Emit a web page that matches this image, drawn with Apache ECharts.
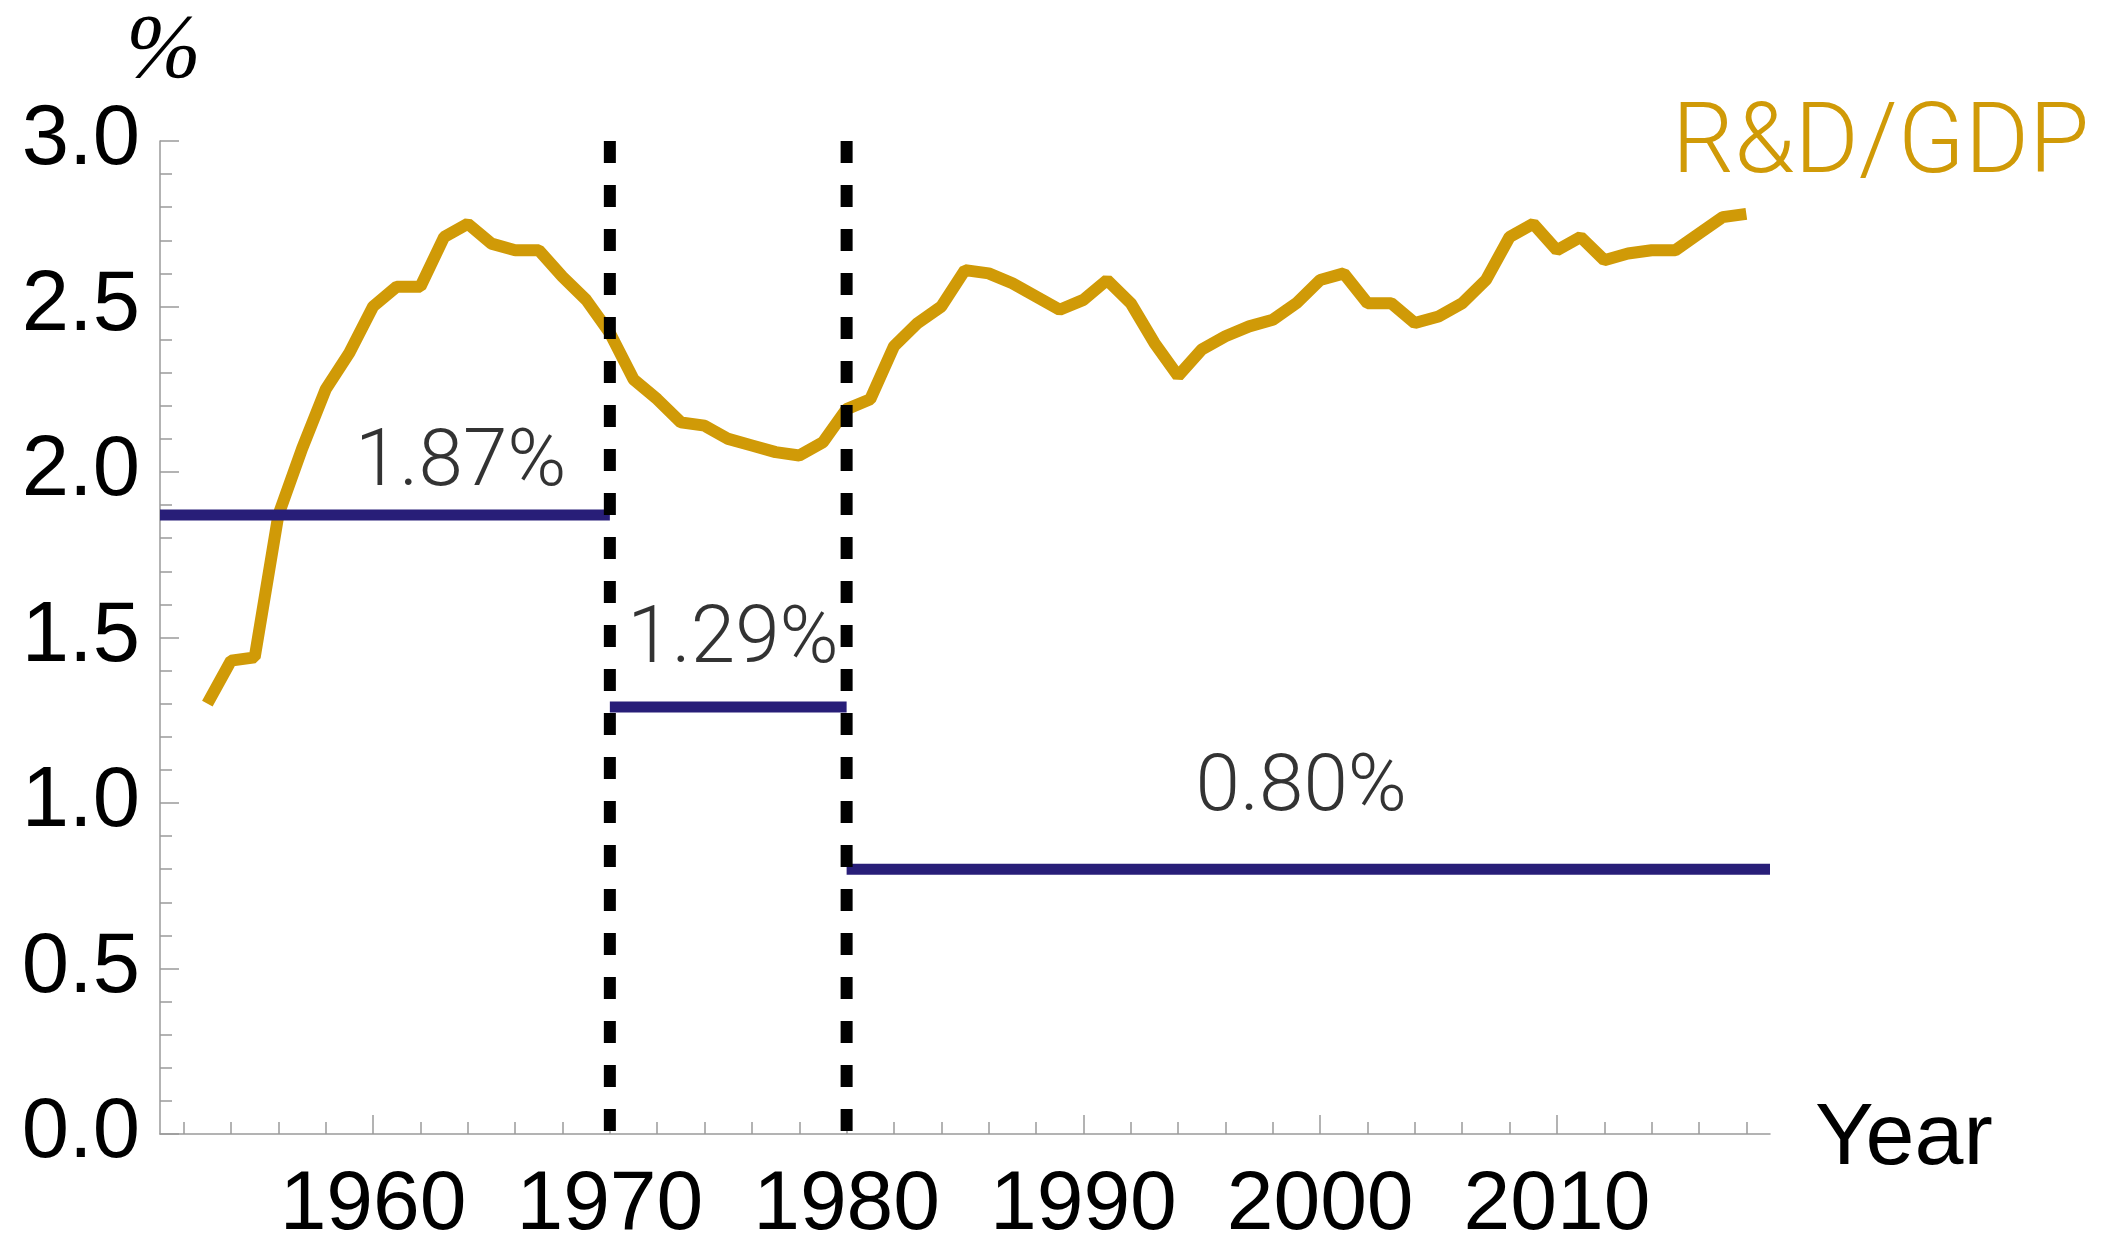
<!DOCTYPE html>
<html>
<head>
<meta charset="utf-8">
<title>R&amp;D/GDP</title>
<script src="https://cdn.jsdelivr.net/npm/echarts@6.0.0/dist/echarts.min.js"></script>
<style>
  html, body { margin: 0; padding: 0; background: #fff; }
  #RdChart { width: 2105px; height: 1239px; }
</style>
</head>
<body>
<div id="RdChart"></div>
<script>
// R&D 占 GDP 比重，1953-2018
const years = [
  1953, 1954, 1955, 1956, 1957, 1958, 1959, 1960, 1961, 1962,
  1963, 1964, 1965, 1966, 1967, 1968, 1969, 1970, 1971, 1972,
  1973, 1974, 1975, 1976, 1977, 1978, 1979, 1980, 1981, 1982,
  1983, 1984, 1985, 1986, 1987, 1988, 1989, 1990, 1991, 1992,
  1993, 1994, 1995, 1996, 1997, 1998, 1999, 2000, 2001, 2002,
  2003, 2004, 2005, 2006, 2007, 2008, 2009, 2010, 2011, 2012,
  2013, 2014, 2015, 2016, 2017, 2018,
];
const rdGdp = [
  1.30, 1.43, 1.44, 1.87, 2.07, 2.25, 2.36, 2.50, 2.56, 2.56,
  2.71, 2.75, 2.69, 2.67, 2.67, 2.59, 2.52, 2.42, 2.28, 2.22,
  2.15, 2.14, 2.10, 2.08, 2.06, 2.05, 2.09, 2.19, 2.22, 2.38,
  2.45, 2.50, 2.61, 2.60, 2.57, 2.53, 2.49, 2.52, 2.58, 2.51,
  2.39, 2.29, 2.37, 2.41, 2.44, 2.46, 2.51, 2.58, 2.60, 2.51,
  2.51, 2.45, 2.47, 2.51, 2.58, 2.71, 2.75, 2.67, 2.71, 2.64,
  2.66, 2.67, 2.67, 2.72, 2.77, 2.78,
];

// 三个时期的平均值
const periodStart = [1951, 1970, 1980];
const periodEnd = [1970, 1980, 2019];
const periodAvg = [1.87, 1.29, 0.80];
const periodText = ['1.87%', '1.29%', '0.80%'];
const breakYears = [1970, 1980];

// 刻度
const decadeTicks = [1960, 1970, 1980, 1990, 2000, 2010];
const evenYearTicks = [
  1952, 1954, 1956, 1958, 1960, 1962, 1964, 1966, 1968, 1970,
  1972, 1974, 1976, 1978, 1980, 1982, 1984, 1986, 1988, 1990,
  1992, 1994, 1996, 1998, 2000, 2002, 2004, 2006, 2008, 2010,
  2012, 2014, 2016, 2018,
];

// 标签位置（数据坐标）
const periodLabelAt = [[1963.7, 2.02], [1975.2, 1.485], [1999.2, 1.04]];

const gold = '#D09A07';
const navy = '#281E78';
const axisGrey = '#9a9a9a';
const labelFont = 'Liberation Sans';
const lightFont = 'Roboto';

const myChart = echarts.init(document.getElementById('RdChart'));

const series = [
  {
    name: 'R&D/GDP',
    type: 'line',
    showSymbol: false,
    data: years.map((y, i) => [y, rdGdp[i]]),
    lineStyle: { color: gold, width: 12 },
    z: 2,
  },
];

for (let i = 0; i < periodAvg.length; i++) {
  series.push({
    type: 'line',
    showSymbol: false,
    data: [[periodStart[i], periodAvg[i]], [periodEnd[i], periodAvg[i]]],
    lineStyle: { color: navy, width: 11, cap: 'butt' },
    z: 3,
  });
}

series.push({
  type: 'scatter',
  symbolSize: 0,
  data: periodLabelAt.map((p, i) => ({ value: p, name: periodText[i] })),
  label: {
    show: true,
    position: 'inside',
    formatter: (p) => p.name,
    color: '#000',
    textBorderWidth: 0,
    fontFamily: lightFont,
    fontWeight: 300,
    fontSize: 80,
  },
  z: 5,
});

breakYears.forEach((yr) => {
  series.push({
    type: 'line',
    showSymbol: false,
    data: [[yr, 3.0], [yr, 0]],
    lineStyle: { color: '#000', width: 12, type: [22, 22], cap: 'butt' },
    z: 4,
  });
});

const option = {
  animation: false,
  backgroundColor: '#fff',
  grid: {
    left: 160,
    right: 335,
    top: 141,
    bottom: 105,
    outerBoundsMode: 'none',
  },
  xAxis: [
    {
      type: 'value',
      min: 1951,
      max: 2019,
      axisLine: { show: true, lineStyle: { color: axisGrey, width: 1.5 } },
      axisTick: {
        show: true,
        inside: true,
        length: 12,
        customValues: evenYearTicks,
        lineStyle: { color: axisGrey, width: 1.5 },
      },
      axisLabel: { show: false },
      splitLine: { show: false },
    },
    {
      type: 'value',
      position: 'bottom',
      min: 1951,
      max: 2019,
      axisLine: { show: false },
      axisTick: {
        show: true,
        inside: true,
        length: 19,
        customValues: decadeTicks,
        lineStyle: { color: axisGrey, width: 1.5 },
      },
      axisLabel: {
        show: true,
        customValues: decadeTicks,
        formatter: (v) => String(v),
        fontFamily: labelFont,
        fontSize: 84,
        color: '#000',
        margin: 30,
      },
      splitLine: { show: false },
    },
  ],
  yAxis: {
    type: 'value',
    min: 0,
    max: 3,
    interval: 0.5,
    axisLine: { show: true, lineStyle: { color: axisGrey, width: 1.5 } },
    axisTick: {
      show: true,
      inside: true,
      length: 19,
      lineStyle: { color: axisGrey, width: 1.5 },
    },
    minorTick: {
      show: true,
      splitNumber: 5,
      length: 12,
      lineStyle: { color: axisGrey, width: 1.5 },
    },
    axisLabel: {
      formatter: (v) => v.toFixed(1),
      fontFamily: labelFont,
      fontSize: 85,
      color: '#000',
      margin: 20,
    },
    splitLine: { show: false },
  },
  graphic: [
    {
      type: 'text',
      left: 126,
      top: 8,
      style: {
        text: '%',
        fontFamily: 'Liberation Serif',
        fontStyle: 'italic',
        fontSize: 90,
        fill: '#000',
      },
    },
    {
      type: 'text',
      x: 1672,
      y: 147,
      style: {
        text: 'R&D/GDP',
        fontFamily: lightFont,
        fontWeight: 300,
        fontSize: 98,
        fill: gold,
        verticalAlign: 'middle',
      },
    },
    {
      type: 'text',
      x: 1815,
      y: 1140,
      style: {
        text: 'Year',
        fontFamily: labelFont,
        fontSize: 88,
        fill: '#000',
        verticalAlign: 'middle',
      },
    },
  ],
  series: series,
};

myChart.setOption(option);
</script>
</body>
</html>
